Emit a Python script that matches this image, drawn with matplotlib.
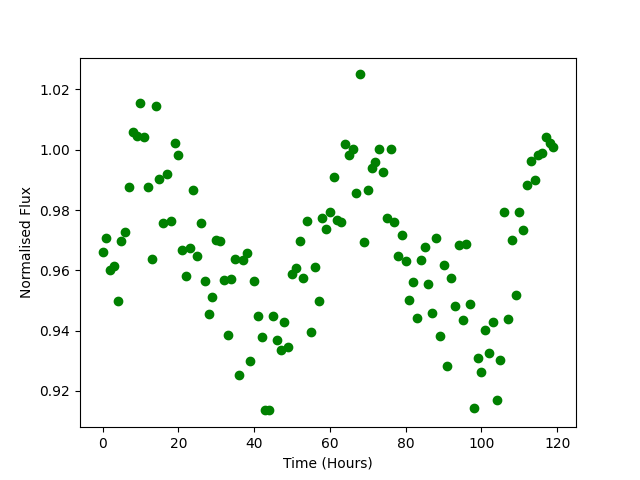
import matplotlib
matplotlib.use("Agg")
import matplotlib.pyplot as plt

hours = [
    0, 1, 2, 3, 4, 5, 6, 7, 8, 9,
    10, 11, 12, 13, 14, 15, 16, 17, 18, 19,
    20, 21, 22, 23, 24, 25, 26, 27, 28, 29,
    30, 31, 32, 33, 34, 35, 36, 37, 38, 39,
    40, 41, 42, 43, 44, 45, 46, 47, 48, 49,
    50, 51, 52, 53, 54, 55, 56, 57, 58, 59,
    60, 61, 62, 63, 64, 65, 66, 67, 68, 69,
    70, 71, 72, 73, 74, 75, 76, 77, 78, 79,
    80, 81, 82, 83, 84, 85, 86, 87, 88, 89,
    90, 91, 92, 93, 94, 95, 96, 97, 98, 99,
    100, 101, 102, 103, 104, 105, 106, 107, 108, 109,
    110, 111, 112, 113, 114, 115, 116, 117, 118, 119,
]

flux = [
    0.9659, 0.9706, 0.9600, 0.9613, 0.9497, 0.9696, 0.9726, 0.9876, 1.0058, 1.0044,
    1.0154, 1.0041, 0.9878, 0.9639, 1.0144, 0.9902, 0.9756, 0.9921, 0.9762, 1.0021,
    0.9981, 0.9666, 0.9580, 0.9673, 0.9865, 0.9649, 0.9756, 0.9563, 0.9454, 0.9510,
    0.9702, 0.9696, 0.9567, 0.9384, 0.9570, 0.9639, 0.9251, 0.9633, 0.9656, 0.9298,
    0.9563, 0.9447, 0.9377, 0.9135, 0.9135, 0.9447, 0.9367, 0.9334, 0.9427, 0.9344,
    0.9586, 0.9606, 0.9696, 0.9576, 0.9762, 0.9394, 0.9610, 0.9497, 0.9775, 0.9736,
    0.9792, 0.9911, 0.9766, 0.9759, 1.0018, 0.9981, 1.0001, 0.9855, 1.0250, 0.9693,
    0.9868, 0.9938, 0.9958, 1.0001, 0.9925, 0.9772, 1.0001, 0.9759, 0.9649, 0.9716,
    0.9630, 0.9500, 0.9560, 0.9440, 0.9633, 0.9676, 0.9553, 0.9457, 0.9706, 0.9381,
    0.9616, 0.9281, 0.9576, 0.9482, 0.9683, 0.9434, 0.9686, 0.9487, 0.9142, 0.9308,
    0.9261, 0.9401, 0.9324, 0.9430, 0.9168, 0.9301, 0.9792, 0.9437, 0.9699, 0.9517,
    0.9792, 0.9732, 0.9882, 0.9961, 0.9898, 0.9981, 0.9988, 1.0041, 1.0021, 1.0008,
]

fig, ax = plt.subplots(figsize=(6.4, 4.8), dpi=100)
ax.scatter(hours, flux, color="green")
ax.set_xlabel("Time (Hours)")
ax.set_ylabel("Normalised Flux")
fig.savefig("out.png", dpi=100)
